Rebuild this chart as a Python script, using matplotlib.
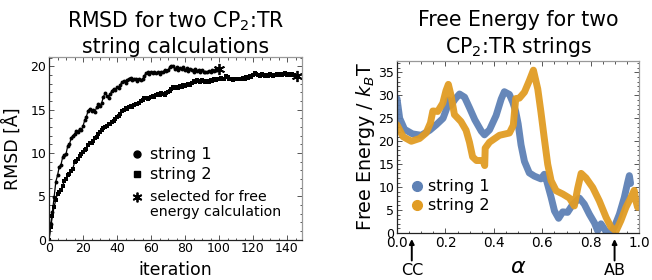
import numpy as np
import matplotlib
matplotlib.use("Agg")
import matplotlib.pyplot as plt
from matplotlib.ticker import MultipleLocator
from matplotlib.transforms import blended_transform_factory

# ── Data: RMSD per string iteration ──────────────────────────────────────────
RMSD_1 = [0.0, 1.8, 3.2, 4.9, 6.7, 7.4, 8.4, 8.6, 9.5, 9.8,
          9.9, 10.8, 11.0, 11.7, 12.0, 12.2, 12.5, 12.4, 12.8, 12.6,
          13.1, 13.8, 14.2, 14.9, 15.1, 14.8, 15.0, 14.7, 15.3, 15.6,
          15.4, 15.8, 16.5, 16.9, 16.6, 16.4, 16.8, 17.2, 17.4, 17.3,
          17.6, 17.5, 17.9, 18.2, 18.3, 18.1, 18.4, 18.6, 18.7, 18.4,
          18.6, 18.5, 18.3, 18.6, 18.4, 18.5, 18.9, 19.2, 19.3, 19.1,
          19.3, 19.2, 19.4, 19.2, 19.3, 19.1, 19.4, 19.3, 19.6, 19.5,
          19.6, 19.9, 20.1, 20.0, 19.7, 19.9, 19.6, 19.8, 19.7, 19.9,
          19.6, 19.8, 19.5, 19.7, 19.6, 19.4, 19.7, 19.5, 19.6, 19.4,
          19.6, 19.3, 19.4, 19.3, 19.5, 19.4, 19.6, 19.5, 19.7, 19.6,
          19.7]
RMSD_2 = [0.0, 1.5, 2.7, 3.8, 4.6, 5.3, 5.5, 5.7, 6.2, 6.8,
          7.0, 7.4, 7.6, 7.9, 8.2, 8.9, 9.1, 9.3, 9.6, 9.9,
          10.1, 10.3, 10.5, 10.9, 11.1, 11.2, 11.4, 11.7, 11.9, 12.2,
          12.4, 12.6, 12.9, 13.0, 13.1, 13.3, 13.4, 13.6, 13.7, 13.9,
          14.1, 14.3, 14.5, 14.8, 15.0, 15.2, 15.1, 15.3, 15.4, 15.3,
          15.5, 15.7, 15.6, 15.8, 16.0, 16.1, 16.3, 16.4, 16.2, 16.4,
          16.5, 16.6, 16.5, 16.7, 16.8, 16.7, 16.9, 16.8, 16.7, 16.9,
          17.0, 17.2, 17.4, 17.6, 17.5, 17.6, 17.5, 17.7, 17.6, 17.8,
          17.7, 17.9, 18.0, 17.9, 18.1, 18.3, 18.2, 18.4, 18.3, 18.2,
          18.4, 18.3, 18.2, 18.3, 18.2, 18.4, 18.3, 18.5, 18.4, 18.6,
          18.5, 18.7, 18.6, 18.5, 18.9, 18.8, 18.6, 18.5, 18.4, 18.5,
          18.6, 18.5, 18.6, 18.5, 18.7, 18.6, 18.8, 18.7, 18.9, 18.8,
          19.0, 19.2, 19.1, 19.0, 18.9, 19.1, 19.0, 18.9, 19.0, 18.9,
          19.1, 19.0, 18.9, 19.0, 19.1, 19.0, 19.1, 19.0, 19.1, 19.2,
          19.0, 19.1, 19.0, 19.1, 19.0, 18.9, 18.9]
ITER_1 = np.arange(len(RMSD_1))
ITER_2 = np.arange(len(RMSD_2))

# ── Data: free energy profiles along the string ─────────────────────────────
ALPHA_1 = [0.000, 0.011, 0.031, 0.064, 0.100, 0.135, 0.162, 0.190, 0.204, 0.212,
           0.222, 0.240, 0.258, 0.279, 0.300, 0.321, 0.348, 0.361, 0.382, 0.409,
           0.430, 0.443, 0.464, 0.478, 0.490, 0.500, 0.512, 0.526, 0.546, 0.567,
           0.594, 0.608, 0.618, 0.636, 0.650, 0.667, 0.684, 0.704, 0.725, 0.753,
           0.773, 0.794, 0.815, 0.828, 0.842, 0.863, 0.883, 0.897, 0.918, 0.938,
           0.952, 0.959, 0.964]
FE_1 = [29.3, 25.0, 22.6, 21.6, 21.3, 22.4, 23.6, 25.0, 27.0, 29.0,
        27.8, 29.2, 30.3, 29.6, 27.2, 24.7, 22.2, 21.4, 22.5, 25.6,
        29.2, 30.8, 30.2, 28.5, 26.5, 23.8, 19.2, 15.6, 13.1, 12.4,
        11.8, 12.8, 11.3, 7.8, 4.8, 3.2, 4.6, 4.5, 6.2, 7.6,
        6.3, 4.1, 2.2, 0.5, 2.0, 0.3, 0.0, 1.3, 4.1, 7.7,
        11.0, 12.5, 10.8]
ALPHA_2 = [0.000, 0.025, 0.059, 0.093, 0.120, 0.138, 0.148, 0.168, 0.189, 0.202,
           0.212, 0.223, 0.237, 0.264, 0.285, 0.299, 0.312, 0.328, 0.355, 0.362,
           0.364, 0.382, 0.423, 0.464, 0.480, 0.490, 0.505, 0.526, 0.546, 0.563,
           0.581, 0.594, 0.608, 0.622, 0.636, 0.657, 0.684, 0.712, 0.732, 0.746,
           0.760, 0.780, 0.808, 0.835, 0.863, 0.883, 0.904, 0.924, 0.945, 0.965,
           0.979, 0.986, 0.993]
FE_2 = [23.6, 21.0, 20.0, 20.6, 21.8, 24.0, 26.6, 26.5, 28.3, 31.0,
        32.4, 30.0, 25.8, 24.3, 22.4, 19.8, 16.6, 15.8, 15.8, 14.7,
        18.5, 19.8, 21.3, 21.8, 23.5, 29.3, 29.4, 30.7, 33.2, 35.5,
        31.4, 26.4, 20.6, 15.0, 11.4, 9.2, 8.5, 7.6, 5.9, 9.8,
        13.0, 12.0, 9.9, 7.0, 3.4, 1.3, 0.4, 2.7, 5.6, 7.7,
        9.3, 7.0, 5.6]

ARROW_LABELS = ["CC", "AB"]
ARROW_ALPHA = [0.061, 0.898]

BLUE = "#5E81B5"
ORANGE = "#E19C24"


def style_frame(ax, xmaj, xmin, ymaj, ymin, xfs, yfs):
    """Mathematica-like frame: ticks inside on all four sides."""
    for s in ("left", "bottom"):
        ax.spines[s].set_color("#222222")
    for s in ("top", "right"):
        ax.spines[s].set_color("#999999")
    for s in ax.spines.values():
        s.set_linewidth(0.9)
    ax.xaxis.set_major_locator(MultipleLocator(xmaj))
    ax.xaxis.set_minor_locator(MultipleLocator(xmin))
    ax.yaxis.set_major_locator(MultipleLocator(ymaj))
    ax.yaxis.set_minor_locator(MultipleLocator(ymin))
    ax.tick_params(which="both", direction="in", top=True, right=True,
                   color="#555555", width=0.7)
    ax.tick_params(which="major", length=3.5, pad=2)
    ax.tick_params(axis="x", labelsize=xfs)
    ax.tick_params(axis="y", labelsize=yfs)
    ax.tick_params(which="minor", length=1.8)


fig = plt.figure(figsize=(6.52, 2.8), dpi=100)

# ── Left: RMSD ───────────────────────────────────────────────────────────────
ax1 = fig.add_axes([0.0752, 0.1446, 0.3885, 0.6507])
ax1.plot(ITER_1, RMSD_1, color="k", lw=0.9, marker="o", ms=2.8, mew=0)
ax1.plot(ITER_2, RMSD_2, color="k", lw=0.9, marker="s", ms=2.5, mew=0)
ax1.plot(ITER_1[-1], RMSD_1[-1], marker=(6, 2, 0), color="k", ms=8, mew=1.3)
ax1.plot(ITER_2[-1], RMSD_2[-1], marker=(6, 2, 0), color="k", ms=8, mew=1.3)
ax1.set_xlim(0, 149)
ax1.set_ylim(0, 21.05)
style_frame(ax1, 20, 5, 5, 1, 9, 9)
ax1.set_xlabel("iteration", fontsize=12.5, labelpad=4)
ax1.set_ylabel("RMSD [Å]", fontsize=12.5, labelpad=6)
ax1.set_title("RMSD for two CP$_2$:TR\nstring calculations",
              fontsize=14.8, linespacing=1.25, pad=3)

# legend drawn by hand in axes coordinates
ax1.plot([0.346], [0.469], "o", color="k", ms=5, transform=ax1.transAxes)
ax1.plot([0.346], [0.358], "s", color="k", ms=4.5, transform=ax1.transAxes)
ax1.plot([0.346], [0.232], marker=(6, 2, 0), color="k", ms=7, mew=1.3,
         transform=ax1.transAxes)
ax1.text(0.399, 0.469, "string 1", fontsize=11.6, va="center",
         transform=ax1.transAxes)
ax1.text(0.399, 0.358, "string 2", fontsize=11.6, va="center",
         transform=ax1.transAxes)
ax1.text(0.399, 0.192, "selected for free\nenergy calculation", fontsize=10.2,
         va="center", linespacing=1.15, transform=ax1.transAxes)

# ── Right: free energy ───────────────────────────────────────────────────────
ax2 = fig.add_axes([0.6089, 0.1679, 0.3716, 0.6143])
ax2.plot(ALPHA_1, FE_1, color=BLUE, lw=5.0, solid_joinstyle="round",
         solid_capstyle="round", alpha=0.95)
ax2.plot(ALPHA_2, FE_2, color=ORANGE, lw=5.0, solid_joinstyle="round",
         solid_capstyle="round", alpha=0.95)
ax2.set_xlim(0, 1)
ax2.set_ylim(0, 37.5)
style_frame(ax2, 0.2, 0.05, 5, 1, 9.8, 9)
ax2.set_xlabel(r"$\alpha$", fontsize=16, labelpad=5)
ax2.set_ylabel(r"Free Energy / $k_B$T", fontsize=13.8, labelpad=1)
ax2.set_title("Free Energy for two\nCP$_2$:TR strings",
              fontsize=14.8, linespacing=1.25, pad=6)

ax2.plot([0.081], [0.273], "o", color=BLUE, ms=7, transform=ax2.transAxes)
ax2.plot([0.081], [0.160], "o", color=ORANGE, ms=7, transform=ax2.transAxes)
ax2.text(0.129, 0.273, "string 1", fontsize=11.6, va="center",
         transform=ax2.transAxes)
ax2.text(0.129, 0.160, "string 2", fontsize=11.6, va="center",
         transform=ax2.transAxes)

trans = blended_transform_factory(ax2.transData, ax2.transAxes)
for lbl, a in zip(ARROW_LABELS, ARROW_ALPHA):
    ax2.annotate("", xy=(a, -0.035), xycoords=trans,
                 xytext=(a, -0.16), textcoords=trans,
                 arrowprops=dict(arrowstyle="-|>", color="k", lw=1.4,
                                 mutation_scale=7, shrinkA=0, shrinkB=0),
                 annotation_clip=False)
    ax2.text(a, -0.22, lbl, transform=trans, fontsize=11.5,
             ha="center", va="center", clip_on=False)

fig.savefig("out.png", dpi=100)
